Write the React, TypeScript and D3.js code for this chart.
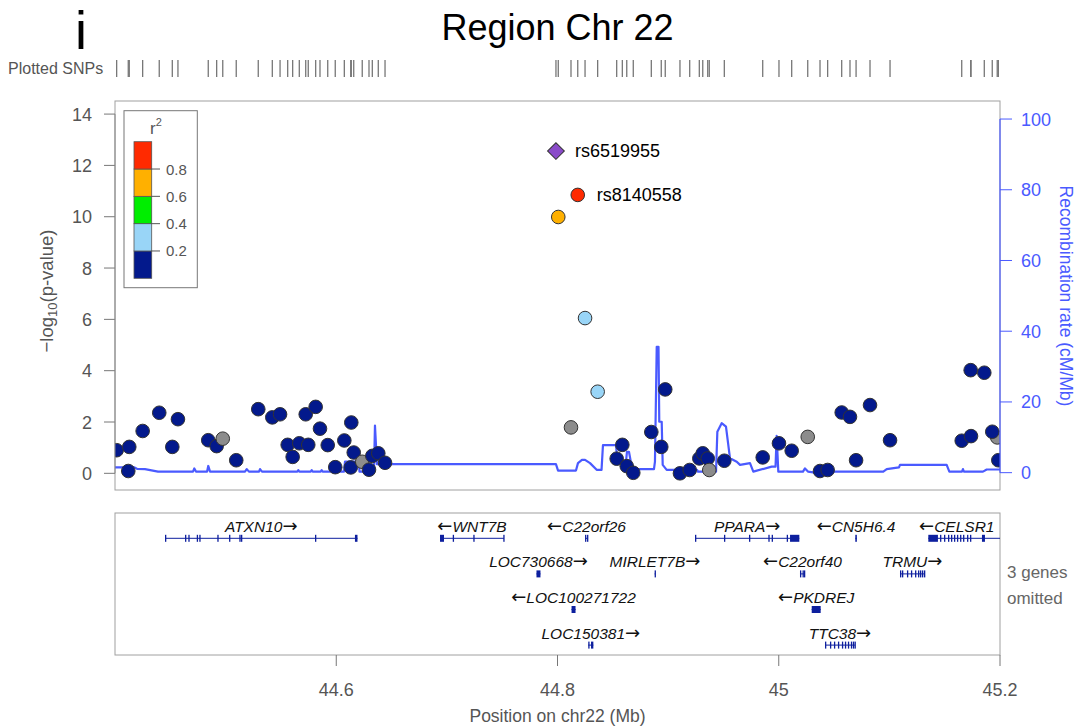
import React from 'react';
import * as d3 from 'd3';

// ---------- data ----------
const snpPos = [
  44.4015, 44.4120, 44.4129, 44.4250, 44.4400, 44.4518, 44.4569, 44.4843, 44.4919, 44.4974,
  44.5096, 44.5295, 44.5422, 44.5492, 44.5561, 44.5606, 44.5666, 44.5724, 44.5747, 44.5814,
  44.5853, 44.5923, 44.5991, 44.6073, 44.6131, 44.6136, 44.6158, 44.6235, 44.6296, 44.6326,
  44.6380, 44.6441,
  44.8122, 44.8363, 44.8249, 44.8007, 44.8183,
  44.8535, 44.8586, 44.8626, 44.8685, 44.8848, 44.8938, 44.8974, 44.9107, 44.9195, 44.9282,
  44.9313, 44.9358, 44.9372, 44.9508, 44.9855, 45.0002, 45.0117, 45.0262, 45.0373, 45.0442,
  45.0569, 45.0644, 45.0699, 45.0825, 45.1006, 45.1654, 45.1735, 45.1738, 45.1858, 45.1975,
  45.1930, 45.1985,
];
const snpLogP = [
  0.90, 0.09, 1.03, 1.65, 2.36, 1.03, 2.11, 1.29, 1.06, 1.35,
  0.51, 2.50, 2.18, 2.30, 1.11, 0.64, 1.17, 2.30, 1.11, 2.59,
  1.74, 1.10, 0.24, 1.28, 0.23, 1.98, 0.81, 0.45, 0.14, 0.68,
  0.78, 0.41,
  1.79, 3.18, 6.05, 9.99, 10.85,
  0.57, 1.11, 0.28, 0.02, 1.61, 1.03, 3.27, 0.00, 0.13, 0.58,
  0.78, 0.58, 0.13, 0.49, 0.62, 1.17, 0.88, 1.42, 0.09, 0.13,
  2.37, 2.20, 0.51, 2.66, 1.29, 1.27, 4.02, 1.45, 3.92, 1.40,
  1.62, 0.51,
];
// r2 with the lead SNP; -1 = no LD information (grey)
const snpR2 = [
  0.1, 0.1, 0.1, 0.1, 0.1, 0.1, 0.1, 0.1, 0.1, -1,
  0.1, 0.1, 0.1, 0.1, 0.1, 0.1, 0.1, 0.1, 0.1, 0.1,
  0.1, 0.1, 0.1, 0.1, 0.1, 0.1, 0.1, -1, 0.1, 0.1,
  0.1, 0.1,
  -1, 0.3, 0.3, 0.7, 0.9,
  0.1, 0.1, 0.1, 0.1, 0.1, 0.1, 0.1, 0.1, 0.1, 0.1,
  0.1, 0.1, -1, 0.1, 0.1, 0.1, 0.1, -1, 0.1, 0.1,
  0.1, 0.1, 0.1, 0.1, 0.1, 0.1, 0.1, 0.1, 0.1, -1,
  0.1, 0.1,
];
const topSnpName = 'rs6519955';
const topSnpPos = 44.7986;
const topSnpLogP = 12.56;
const labelSnpNames = ['rs8140558'];
const labelSnpPos = [44.8183];
const labelSnpLogP = [10.85];

const recPos = [
  44.4000, 44.4172, 44.4199, 44.4271, 44.4389, 44.4705, 44.4717, 44.4732, 44.4832, 44.4843,
  44.4859, 44.5175, 44.5191, 44.5211, 44.5302, 44.5311, 44.5329, 44.5648, 44.5657, 44.5666,
  44.5769, 44.5778, 44.5787, 44.5859, 44.5868, 44.5877, 44.6070, 44.6079, 44.6206, 44.6210,
  44.6341, 44.6350, 44.6368, 44.7986, 44.8005, 44.8167, 44.8185, 44.8221, 44.8249, 44.8294,
  44.8354, 44.8398, 44.8411, 44.8529, 44.8542, 44.8619, 44.8628, 44.8646, 44.8671, 44.8730,
  44.8872, 44.8881, 44.8897, 44.8913, 44.8920, 44.8942, 44.8951, 44.8987, 44.9261, 44.9270,
  44.9433, 44.9445, 44.9484, 44.9523, 44.9559, 44.9620, 44.9650, 44.9740, 44.9770, 44.9936,
  44.9971, 44.9981, 44.9996, 45.0219, 45.0237, 45.0264, 45.0328, 45.0388, 45.0433, 45.0945,
  45.0976, 45.1087, 45.1096, 45.1518, 45.1542, 45.1656, 45.1665, 45.1674, 45.1846, 45.1880,
  45.2000,
];
const recRate = [
  1.5, 1.5, 1.1, 1.0, 0.3, 0.3, 1.2, 0.3, 0.3, 1.9,
  0.3, 0.3, 1.0, 0.3, 0.3, 1.0, 0.3, 0.3, 0.7, 0.3,
  0.3, 0.7, 0.3, 0.3, 0.7, 0.3, 0.3, 3.1, 3.1, 0.3,
  0.3, 13.3, 2.4, 2.4, 0.6, 0.6, 2.7, 3.6, 3.6, 2.7,
  0.8, 0.8, 7.8, 7.8, 3.1, 3.1, 5.9, 5.9, 1.7, 1.0,
  1.0, 3.1, 35.6, 35.6, 14.4, 14.4, 2.2, 0.8, 0.8, 0.3,
  0.3, 11.6, 14.0, 13.0, 4.1, 3.1, 2.2, 2.7, 0.3, 1.7,
  1.7, 10.4, 0.3, 0.3, 1.2, 0.3, 0.0, 0.0, 0.3, 0.3,
  1.0, 1.5, 2.2, 2.2, 0.3, 0.3, 1.0, 0.3, 0.3, 0.9,
  0.9,
];

const yTicks = [0, 2, 4, 6, 8, 10, 12, 14];
const recTicks = [0, 20, 40, 60, 80, 100];
const xTicks = [44.6, 44.8, 45, 45.2];
const legendBreaks = [0.2, 0.4, 0.6, 0.8];
const ldColors = ['#03198c', '#99d5f7', '#00ee00', '#ffb000', '#ff2a00'];
const greyColor = '#8c8c8c';
const leadColor = '#8a4bc9';

type Gene = { name: string; start: number; end: number; strand: number; row: number; exons: number[][] };
const genes: Gene[] = [
  { name: 'ATXN10', start: 44.4452, end: 44.6192, strand: 1, row: 0, exons: [[44.4452, 44.4455], [44.4633, 44.4636], [44.4663, 44.4666], [44.4739, 44.4742], [44.4762, 44.4765], [44.4925, 44.4928], [44.5031, 44.5034], [44.5124, 44.5127], [44.5139, 44.5142], [44.5808, 44.5811], [44.6169, 44.6192]] },
  { name: 'WNT7B', start: 44.6938, end: 44.7516, strand: -1, row: 0, exons: [[44.6938, 44.6974], [44.7053, 44.7056], [44.7239, 44.7242], [44.7510, 44.7516]] },
  { name: 'C22orf26', start: 44.8249, end: 44.8276, strand: -1, row: 0, exons: [[44.8249, 44.8258], [44.8267, 44.8276]] },
  { name: 'PPARA', start: 44.9243, end: 45.0186, strand: 1, row: 0, exons: [[44.9243, 44.9252], [44.9505, 44.9508], [44.9731, 44.9734], [44.9906, 44.9911], [44.9936, 44.9941], [45.0072, 45.0076], [45.0102, 45.0186]] },
  { name: 'CN5H6.4', start: 45.0692, end: 45.0706, strand: -1, row: 0, exons: [[45.0692, 45.0706]] },
  { name: 'CELSR1', start: 45.1352, end: 45.3100, strand: -1, row: 0, exons: [[45.1352, 45.1439], [45.1458, 45.1462], [45.1494, 45.1498], [45.1530, 45.1534], [45.1557, 45.1561], [45.1584, 45.1588], [45.1611, 45.1615], [45.1639, 45.1643], [45.1666, 45.1670], [45.1702, 45.1706], [45.1729, 45.1733], [45.1837, 45.1864]] },
  { name: 'LOC730668', start: 44.7810, end: 44.7846, strand: 1, row: 1, exons: [[44.7810, 44.7846]] },
  { name: 'MIRLET7B', start: 44.8878, end: 44.8884, strand: 1, row: 1, exons: [[44.8878, 44.8884]] },
  { name: 'C22orf40', start: 45.0192, end: 45.0237, strand: -1, row: 1, exons: [[45.0192, 45.0201], [45.0215, 45.0224], [45.0228, 45.0237]] },
  { name: 'TRMU', start: 45.1096, end: 45.1322, strand: 1, row: 1, exons: [[45.1096, 45.1100], [45.1114, 45.1118], [45.1159, 45.1163], [45.1195, 45.1199], [45.1232, 45.1236], [45.1259, 45.1263], [45.1277, 45.1281], [45.1295, 45.1299], [45.1313, 45.1322]] },
  { name: 'LOC100271722', start: 44.8127, end: 44.8163, strand: -1, row: 2, exons: [[44.8127, 44.8163]] },
  { name: 'PKDREJ', start: 45.0298, end: 45.0379, strand: -1, row: 2, exons: [[45.0298, 45.0379]] },
  { name: 'LOC150381', start: 44.8278, end: 44.8324, strand: 1, row: 3, exons: [[44.8278, 44.8289], [44.8303, 44.8324]] },
  { name: 'TTC38', start: 45.0418, end: 45.0689, strand: 1, row: 3, exons: [[45.0418, 45.0422], [45.0463, 45.0467], [45.0499, 45.0503], [45.0535, 45.0539], [45.0571, 45.0575], [45.0598, 45.0602], [45.0625, 45.0629], [45.0652, 45.0656], [45.0670, 45.0674], [45.0685, 45.0689]] },
];
const omittedNote = ['3 genes', 'omitted'];

// ---------- layout ----------
const W = 1092, H = 726;
const PL = 115, PR = 1000, PT = 101, PB = 490;
const GT = 513, GB = 655;
const FONT = "'Liberation Sans', Arial, Helvetica, sans-serif";
const GREY_TXT = '#555';
const FRAME = '#a0a0a0';
const REC_COL = '#4a5aff';
const GENE_COL = '#0d1f9e';

export default function App() {
  const x = d3.scaleLinear().domain([44.4, 45.2]).range([PL, PR]);
  const y = d3.scaleLinear().domain([-0.65, 14.51]).range([PB, PT]);
  const yRec = d3.scaleLinear().domain([-4.9, 105.1]).range([PB, PT]);
  const rowY = d3.scaleLinear().domain([0, 1]).range([538.3, 573.9]);
  const legY = d3.scaleLinear().domain([0, 1]).range([278.3, 141.7]);

  const colorOf = (r2: number) => (r2 < 0 ? greyColor : ldColors[Math.min(4, Math.floor(r2 / 0.2))]);

  const recLine = d3.line<number>()
    .x((_, i) => x(recPos[i]))
    .y((d) => yRec(d))(recRate) || '';

  const diamond = d3.symbol().type(d3.symbolSquare).size(140)() || '';
  const fmtX = (d: number) => String(+d.toFixed(1));

  const geneFont = 15.5;
  const estWidth = (g: Gene) => (g.name.length * 0.66 + 1.1) * geneFont;

  return (
    <svg width={W} height={H} style={{ position: 'absolute', left: 0, top: 0, background: '#fff' }} fontFamily={FONT}>
      <defs>
        <clipPath id="plotClip"><rect x={PL} y={PT} width={PR - PL} height={PB - PT} /></clipPath>
        <clipPath id="geneClip"><rect x={PL} y={GT} width={PR - PL} height={GB - GT} /></clipPath>
      </defs>
      <rect x={0} y={0} width={W} height={H} fill="#fff" />

      {/* panel letter and title */}
      <text x={75} y={49} fontSize={54} fill="#000">i</text>
      <text x={(PL + PR) / 2} y={40} fontSize={36} textAnchor="middle" fill="#000">Region Chr 22</text>

      {/* plotted SNPs rug */}
      <text x={8} y={74} fontSize={16} fill={GREY_TXT}>Plotted SNPs</text>
      {snpPos.map((p, i) => (
        <line key={'rug' + i} x1={x(p)} x2={x(p)} y1={60} y2={77} stroke="#777" strokeWidth={1.3} />
      ))}
      <line x1={x(topSnpPos)} x2={x(topSnpPos)} y1={60} y2={77} stroke="#777" strokeWidth={1.3} />

      {/* main frame */}
      <rect x={PL} y={PT} width={PR - PL} height={PB - PT} fill="none" stroke={FRAME} strokeWidth={1} />

      {/* recombination line */}
      <g clipPath="url(#plotClip)">
        <path d={recLine} fill="none" stroke={REC_COL} strokeWidth={2.2} strokeLinejoin="round" />
      </g>

      {/* SNP points */}
      <g clipPath="url(#plotClip)">
        {snpPos.map((p, i) => (
          <circle key={'pt' + i} cx={x(p)} cy={y(snpLogP[i])} r={6.8} fill={colorOf(snpR2[i])} stroke="#333" strokeWidth={1} />
        ))}
        <path d={diamond} transform={`translate(${x(topSnpPos)},${y(topSnpLogP)}) rotate(45)`} fill={leadColor} stroke="#333" strokeWidth={1} />
      </g>
      <text x={x(topSnpPos) + 19} y={y(topSnpLogP) + 6} fontSize={18} fill="#000">{topSnpName}</text>
      {labelSnpNames.map((n, i) => (
        <text key={n} x={x(labelSnpPos[i]) + 19} y={y(labelSnpLogP[i]) + 6} fontSize={18} fill="#000">{n}</text>
      ))}

      {/* left axis */}
      {yTicks.map((t) => (
        <g key={'yt' + t}>
          <line x1={PL - 11} x2={PL} y1={y(t)} y2={y(t)} stroke="#777" strokeWidth={1} />
          <text x={PL - 23} y={y(t) + 6.5} fontSize={18} textAnchor="end" fill={GREY_TXT}>{t}</text>
        </g>
      ))}
      <line x1={PL} x2={PL} y1={y(14)} y2={y(0)} stroke="#888" strokeWidth={1} />
      <text transform="translate(53,291) rotate(-90)" fontSize={18.5} textAnchor="middle" fill={GREY_TXT}>
        <tspan>−log</tspan>
        <tspan fontSize={13} dy={4}>10</tspan>
        <tspan dy={-4}>(p-value)</tspan>
      </text>

      {/* right axis */}
      <line x1={PR} x2={PR} y1={yRec(100)} y2={yRec(0)} stroke={REC_COL} strokeWidth={1.2} />
      {recTicks.map((t) => (
        <g key={'rt' + t}>
          <line x1={PR} x2={PR + 12} y1={yRec(t)} y2={yRec(t)} stroke={REC_COL} strokeWidth={1} />
          <text x={PR + 21} y={yRec(t) + 6.5} fontSize={18} fill={REC_COL}>{t}</text>
        </g>
      ))}
      <text transform="translate(1060,296) rotate(90)" fontSize={17.5} textAnchor="middle" fill={REC_COL}>Recombination rate (cM/Mb)</text>

      {/* legend */}
      <rect x={124} y={110.7} width={73.3} height={177} fill="#fff" stroke="#777" strokeWidth={1} />
      <text x={156} y={134} fontSize={17} textAnchor="middle" fill={GREY_TXT}>
        r<tspan fontSize={11} dy={-8}>2</tspan>
      </text>
      {ldColors.map((c, i) => (
        <rect key={'lg' + i} x={134} y={legY((i + 1) * 0.2)} width={17.7} height={legY(i * 0.2) - legY((i + 1) * 0.2)} fill={c} stroke="#555" strokeWidth={0.8} />
      ))}
      {legendBreaks.map((b) => (
        <g key={'lb' + b}>
          <line x1={151.7} x2={160} y1={legY(b)} y2={legY(b)} stroke="#555" strokeWidth={1} />
          <text x={166} y={legY(b) + 5.5} fontSize={15} fill={GREY_TXT}>{b.toFixed(1)}</text>
        </g>
      ))}

      {/* gene panel */}
      <rect x={PL} y={GT} width={PR - PL} height={GB - GT} fill="none" stroke={FRAME} strokeWidth={1} />
      <g clipPath="url(#geneClip)">
        {genes.map((g) => {
          const gy = rowY(g.row);
          return (
            <g key={'g' + g.name}>
              <line x1={x(g.start)} x2={x(g.end)} y1={gy} y2={gy} stroke={GENE_COL} strokeWidth={1} />
              {g.exons.map((e, j) => {
                const x0 = x(e[0]);
                const w = Math.max(1.3, x(e[1]) - x0);
                return <rect key={j} x={x0} y={gy - 3.5} width={w} height={7} fill={GENE_COL} />;
              })}
            </g>
          );
        })}
      </g>
      {genes.map((g) => {
        const gy = rowY(g.row);
        const s = Math.max(g.start, 44.4), e = Math.min(g.end, 45.2);
        const w = estWidth(g);
        let cx = x((s + e) / 2);
        cx = Math.min(cx, PR - 4 - w / 2);
        cx = Math.max(cx, PL + 4 + w / 2);
        const arrow = <tspan fontFamily="'DejaVu Sans', sans-serif" fontStyle="normal" fontSize={18}>{g.strand < 0 ? '←' : '→'}</tspan>;
        return (
          <text key={'gl' + g.name} x={cx} y={gy - 6.5} fontSize={geneFont} fontStyle="italic" textAnchor="middle" fill="#111">
            {g.strand < 0 ? <>{arrow}{g.name}</> : <>{g.name}{arrow}</>}
          </text>
        );
      })}
      {omittedNote.map((t, i) => (
        <text key={'om' + i} x={1007} y={578 + i * 26} fontSize={17} fill="#666">{t}</text>
      ))}

      {/* x axis */}
      {xTicks.map((t) => (
        <g key={'xt' + t}>
          <line x1={x(t)} x2={x(t)} y1={GB} y2={GB + 11} stroke="#777" strokeWidth={1} />
          <text x={x(t)} y={695.5} fontSize={18} textAnchor="middle" fill={GREY_TXT}>{fmtX(t)}</text>
        </g>
      ))}
      <text x={(PL + PR) / 2} y={721.5} fontSize={17.5} textAnchor="middle" fill={GREY_TXT}>Position on chr22 (Mb)</text>
    </svg>
  );
}
